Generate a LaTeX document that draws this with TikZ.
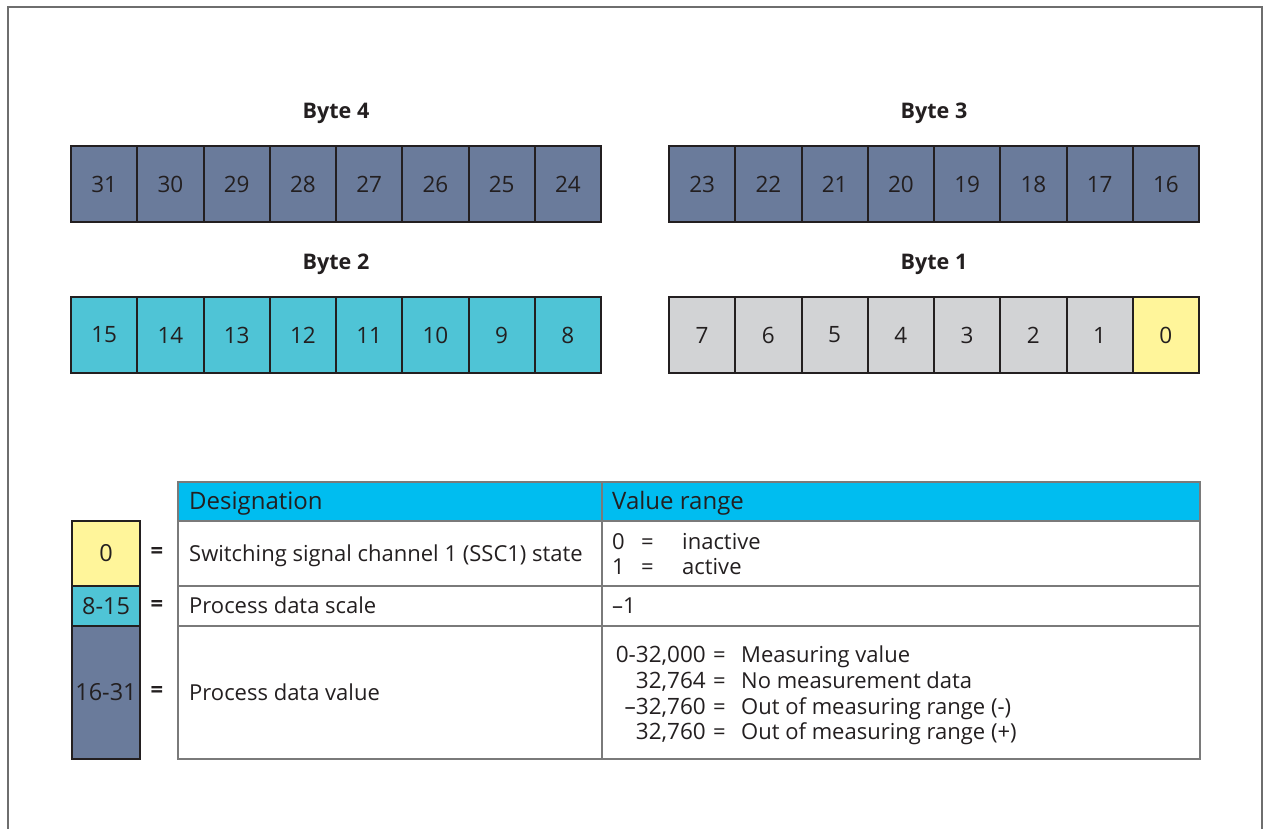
\documentclass[tikz,border=0pt]{standalone}
\usepackage{fontspec}
\setmainfont{Open Sans}
\definecolor{slate}{HTML}{6A7B9B}
\definecolor{cellcyan}{HTML}{4FC4D6}
\definecolor{cellgrey}{HTML}{D2D3D5}
\definecolor{cellyellow}{HTML}{FFF59A}
\definecolor{headcyan}{HTML}{00BDF0}
\definecolor{ink}{HTML}{231F20}
\definecolor{rulegrey}{HTML}{7A7A7A}
\definecolor{framegrey}{HTML}{6E6E6E}
\begin{document}
\begin{tikzpicture}[x=1pt,y=-1pt,
  bit/.style={draw=ink, line width=2pt, minimum width=66.25pt, minimum height=75.5pt, inner sep=0pt, font=\fontsize{22.5}{26}\selectfont, text=ink},
  bytetitle/.style={font=\bfseries\fontsize{21.5}{25}\selectfont, text=ink, inner sep=0pt},
  tcell/.style={draw=rulegrey, line width=1.5pt, anchor=north west, inner sep=0pt},
  ttext/.style={anchor=base west, inner sep=0pt, font=\fontsize{22}{26}\selectfont, text=ink},
  tnum/.style={anchor=base east, inner sep=0pt, font=\fontsize{22.5}{26}\selectfont, text=ink},
  htext/.style={anchor=base west, inner sep=0pt, font=\fontsize{24}{28}\selectfont, text=ink},
  legbox/.style={draw=ink, line width=2pt, anchor=north west, inner sep=0pt, minimum width=68pt, font=\fontsize{23.5}{26}\selectfont, text=ink},
  eqsign/.style={font=\bfseries\fontsize{22}{26}\selectfont, text=ink, inner sep=0pt}
]
\useasboundingbox (0,0) rectangle (1267,828);
\fill[white] (0,0) rectangle (1267,828);
\draw[framegrey, line width=1.5pt] (8,830) -- (8,7) -- (1262,7) -- (1262,830);

% byte titles
\node[bytetitle, anchor=base] (t4) at (336,118) {Byte 4};
\node[bytetitle, anchor=base] (t3) at (934,118) {Byte 3};
\node[bytetitle, anchor=base] (t2) at (336,269) {Byte 2};
\node[bytetitle, anchor=base] (t1) at (934,269) {Byte 1};

% bits
\foreach \i in {0,...,7}{
  \pgfmathtruncatemacro\na{31-\i}
  \pgfmathtruncatemacro\nb{23-\i}
  \pgfmathtruncatemacro\nc{15-\i}
  \pgfmathtruncatemacro\nd{7-\i}
  \node[bit, fill=slate] (b\na) at ({71+66.25*(\i+0.5)},184) {\na};
  \node[bit, fill=slate] (b\nb) at ({669+66.25*(\i+0.5)},184) {\nb};
  \node[bit, fill=cellcyan] (b\nc) at ({71+66.25*(\i+0.5)},335) {\nc};
  \ifnum\nd=0
    \node[bit, fill=cellyellow] (b\nd) at ({669+66.25*(\i+0.5)},335) {\nd};
  \else
    \node[bit, fill=cellgrey] (b\nd) at ({669+66.25*(\i+0.5)},335) {\nd};
  \fi
}

% legend
\node[legbox, fill=cellyellow, minimum height=65pt] (l0) at (71,520) {0};
\node[legbox, fill=cellcyan, minimum height=40pt] (l1) at (71,585) {8-15};
\node[legbox, fill=slate, minimum height=133pt] (l2) at (71,625) {16-31};
\node[eqsign] (e0) at (157,553) {=};
\node[eqsign] (e1) at (157,606) {=};
\node[eqsign] (e2) at (157,692) {=};

% table
\node[tcell, fill=headcyan, minimum width=424pt, minimum height=39pt] (h1) at (177,481) {};
\node[tcell, fill=headcyan, minimum width=598pt, minimum height=39pt] (h2) at (601,481) {};
\node[tcell, minimum width=424pt, minimum height=65pt] (r1a) at (177,520) {};
\node[tcell, minimum width=598pt, minimum height=65pt] (r1b) at (601,520) {};
\node[tcell, minimum width=424pt, minimum height=40pt] (r2a) at (177,585) {};
\node[tcell, minimum width=598pt, minimum height=40pt] (r2b) at (601,585) {};
\node[tcell, minimum width=424pt, minimum height=133pt] (r3a) at (177,625) {};
\node[tcell, minimum width=598pt, minimum height=133pt] (r3b) at (601,625) {};

\node[htext] (hd1) at (189,509) {Designation};
\node[htext] (hd2) at (612,509) {Value range};

\node[ttext] (d1) at (189,561) {Switching signal channel 1 (SSC1) state};
\node[ttext] (d2) at (189,613) {Process data scale};
\node[ttext] (d3) at (189,700) {Process data value};

\node[ttext] (v1a) at (612,549) {0};
\node[ttext] (v1b) at (641,549) {=};
\node[ttext] (v1c) at (682,549) {inactive};
\node[ttext] (v2a) at (612,574) {1};
\node[ttext] (v2b) at (641,574) {=};
\node[ttext] (v2c) at (682,574) {active};

\node[ttext] (v3) at (612,613) {–1};

\node[tnum] (n1) at (706,662) {0-32,000};
\node[tnum] (n2) at (706,688) {32,764};
\node[tnum] (n3) at (706,714) {–32,760};
\node[tnum] (n4) at (706,739) {32,760};
\node[ttext] (q1) at (713,662) {=};
\node[ttext] (q2) at (713,688) {=};
\node[ttext] (q3) at (713,714) {=};
\node[ttext] (q4) at (713,739) {=};
\node[ttext] (m1) at (741,662) {Measuring value};
\node[ttext] (m2) at (741,688) {No measurement data};
\node[ttext] (m3) at (741,714) {Out of measuring range (-)};
\node[ttext] (m4) at (741,739) {Out of measuring range (+)};
\end{tikzpicture}
\end{document}
